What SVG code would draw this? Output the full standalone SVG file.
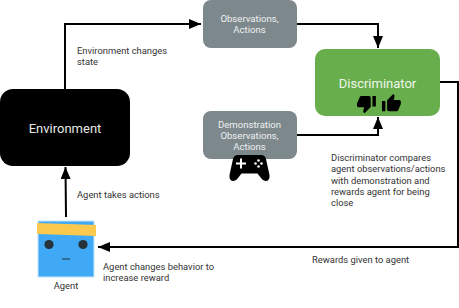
<svg xmlns="http://www.w3.org/2000/svg" width="459" height="308" viewBox="0 0 459 308">
<style>
text{font-family:Roboto,"Liberation Sans",sans-serif}
.lbl{font-size:9.4px;fill:#333}
.grey{font-size:9.6px;fill:#eef0f1;text-anchor:middle}
.conn{fill:none;stroke:#000;stroke-width:2}
.box-grey{fill:#7d888c}
</style>
<defs>
<marker id="head" viewBox="0 0 12 10" markerUnits="userSpaceOnUse" markerWidth="12" markerHeight="10" refX="12" refY="5" orient="auto">
<path d="M0 0L12 5L0 10Z" fill="#000"/>
</marker>
</defs>
<rect width="459" height="308" fill="#fff"/>
<g id="connectors">
<path class="conn" d="M65 90V24H201" marker-end="url(#head)"/>
<path class="conn" d="M297 24H378V48" marker-end="url(#head)"/>
<path class="conn" d="M297 135H378V117" marker-end="url(#head)"/>
<path class="conn" d="M440 82H458V247H98" marker-end="url(#head)"/>
<path class="conn" d="M66 217L65.500 167" marker-end="url(#head)"/>
</g>
<g id="environment">
<rect x="0" y="89" width="130" height="77" rx="13" fill="#000"/>
<text x="65" y="133" font-size="13" fill="#e8e8e8" text-anchor="middle">Environment</text>
</g>
<g id="observations">
<rect class="box-grey" x="203" y="0" width="94" height="48" rx="8"/>
<text class="grey" x="249.500" y="22">Observations,</text>
<text class="grey" x="249.500" y="33">Actions</text>
</g>
<g id="demonstration">
<rect class="box-grey" x="203" y="111" width="94" height="48" rx="8"/>
<text class="grey" x="249.500" y="127.500">Demonstration</text>
<text class="grey" x="249.500" y="138.500">Observations,</text>
<text class="grey" x="249.500" y="150">Actions</text>
<path d="M238 155H261Q265 155 266 159L269.500 175Q270 181 265.500 181Q263 181 261 178L257.500 173.500H241.500L238 178Q236 181 233.500 181Q229 181 229.500 175L233 159Q234 155 238 155Z" fill="#000"/>
<path d="M236 163.500H246M241 158.500V168.500" stroke="#fff" stroke-width="2"/>
<g fill="#fff"><circle cx="258.500" cy="160.500" r="1.300"/><circle cx="258.500" cy="166.500" r="1.300"/><circle cx="255.500" cy="163.500" r="1.300"/><circle cx="261.500" cy="163.500" r="1.300"/></g>
</g>
<g id="discriminator">
<rect x="315" y="49" width="125" height="67" rx="10" fill="#68ae4c"/>
<text x="377.500" y="88" font-size="13" fill="#eef5ea" text-anchor="middle">Discriminator</text>
<path transform="translate(356.100 93.500) scale(.86)" d="M15 3H6c-.83 0-1.540.500-1.840 1.220l-3.020 7.050c-.090.230-.140.470-.140.730v2c0 1.100.900 2 2 2h6.310l-.950 4.570-.030.320c0 .410.170.790.440 1.060L9.830 23l6.590-6.590c.360-.360.580-.860.580-1.410V5c0-1.100-.900-2-2-2zm4 0v12h4V3h-4z" fill="#000"/>
<path transform="translate(381.100 93.200) scale(.86)" d="M1 21h4V9H1v12zm22-11c0-1.100-.900-2-2-2h-6.310l.950-4.570.030-.320c0-.410-.170-.790-.440-1.060L14.170 1 7.590 7.590C7.220 7.950 7 8.450 7 9v10c0 1.100.900 2 2 2h9c.830 0 1.540-.500 1.840-1.220l3.020-7.050c.090-.230.140-.470.140-.730v-2z" fill="#000"/>
</g>
<g id="agent">
<rect x="38" y="221" width="56" height="56" fill="#3fa9f5" stroke="#c6e6fb" stroke-width="1"/>
<path d="M37 223L96 225V236L37 234Z" fill="#fcc94f"/>
<circle cx="49" cy="244.500" r="4.600" fill="#263238"/>
<circle cx="83" cy="244.500" r="4.600" fill="#263238"/>
<path d="M62 259H70" stroke="#263238" stroke-width="1"/>
<text class="lbl" x="66" y="289" text-anchor="middle">Agent</text>
</g>
<g id="labels">
<text class="lbl" x="77" y="54">Environment changes</text>
<text class="lbl" x="77" y="65">state</text>
<text class="lbl" x="77" y="198">Agent takes actions</text>
<text class="lbl" x="103" y="270">Agent changes behavior to</text>
<text class="lbl" x="103" y="281">increase reward</text>
<text class="lbl" x="331" y="161">Discriminator compares</text>
<text class="lbl" x="331" y="172">agent observations/actions</text>
<text class="lbl" x="331" y="183.500">with demonstration and</text>
<text class="lbl" x="331" y="194.500">rewards agent for being</text>
<text class="lbl" x="331" y="205.500">close</text>
<text class="lbl" x="312" y="263">Rewards given to agent</text>
</g>
</svg>
